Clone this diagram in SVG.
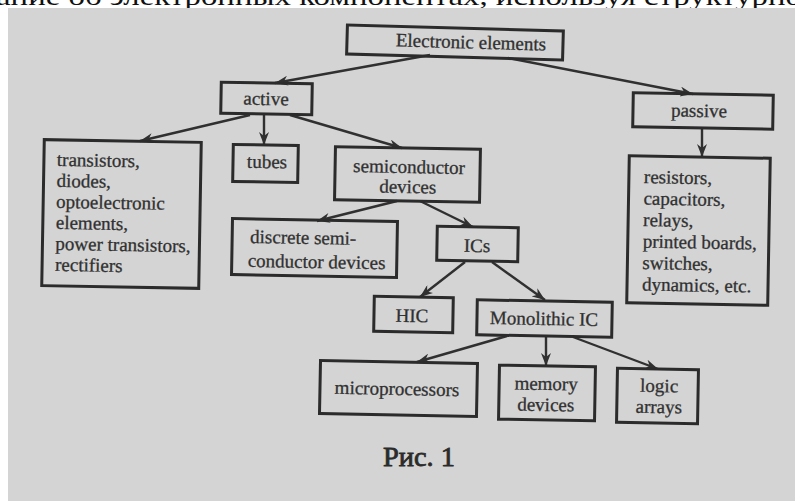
<svg xmlns="http://www.w3.org/2000/svg" width="795" height="501" viewBox="0 0 795 501">
<defs>
<style>
.box{fill:none;stroke:#2b2b2b;stroke-width:3}
.t{font-family:"Liberation Serif","Times New Roman",serif;font-size:19px;fill:#303030;stroke:#303030;stroke-width:0.3}
.c{text-anchor:middle}
.edge{stroke:#303030;stroke-width:2.4;fill:none;marker-end:url(#ah)}
</style>
<marker id="ah" markerUnits="userSpaceOnUse" markerWidth="14" markerHeight="10" refX="13" refY="5" orient="auto">
<path d="M0,0 L13,5 L0,10 L4,5 Z" fill="#303030"/>
</marker>
</defs>
<rect x="0" y="0" width="795" height="501" fill="#ffffff"/>
<text x="-4" y="5" font-family="Liberation Serif, serif" font-size="26" fill="#111" textLength="806" lengthAdjust="spacingAndGlyphs">ание об электронных компонентах, используя структурно</text>
<rect x="8" y="8" width="787" height="493" fill="#d4d4d4"/>

<g id="connectors">
<line class="edge" x1="430" y1="55" x2="275" y2="83"/>
<line class="edge" x1="508" y1="58" x2="693" y2="94"/>
<line class="edge" x1="250" y1="115" x2="140" y2="141"/>
<line class="edge" x1="264" y1="115" x2="264" y2="145"/>
<line class="edge" x1="290" y1="115" x2="402" y2="148"/>
<line class="edge" x1="702" y1="128" x2="702" y2="157"/>
<line class="edge" x1="397" y1="201" x2="317" y2="221"/>
<line class="edge" x1="420" y1="201" x2="473" y2="227"/>
<line class="edge" x1="465" y1="262" x2="420" y2="297"/>
<line class="edge" x1="492" y1="262" x2="545" y2="300"/>
<line class="edge" x1="507" y1="336" x2="417" y2="362"/>
<line class="edge" x1="546" y1="336" x2="546" y2="366"/>
<line class="edge" x1="573" y1="337" x2="658" y2="369"/>
</g>

<g id="n-electronic" transform="rotate(1.6 455 42)">
<rect class="box" x="347" y="28" width="216" height="29"/>
<text class="t c" x="471" y="48">Electronic elements</text>
</g>
<g id="n-active" transform="rotate(1 266 99)">
<rect class="box" x="221" y="83" width="91" height="31"/>
<text class="t c" x="266" y="105">active</text>
</g>
<g id="n-passive" transform="rotate(1 703 111)">
<rect class="box" x="633" y="94" width="140" height="34"/>
<text class="t c" x="699" y="117">passive</text>
</g>
<g id="n-active-list" transform="rotate(1 121 214)">
<rect class="box" x="43" y="141" width="157" height="146"/>
<text class="t" x="56" y="167">transistors,</text>
<text class="t" x="56" y="188">diodes,</text>
<text class="t" x="56" y="209">optoelectronic</text>
<text class="t" x="56" y="230">elements,</text>
<text class="t" x="56" y="251">power transistors,</text>
<text class="t" x="56" y="272">rectifiers</text>
</g>
<g id="n-tubes" transform="rotate(1 265 163)">
<rect class="box" x="233" y="145" width="65" height="37"/>
<text class="t c" x="267" y="168">tubes</text>
</g>
<g id="n-semiconductor" transform="rotate(1 407 174)">
<rect class="box" x="335" y="148" width="145" height="53"/>
<text class="t c" x="409" y="173">semiconductor</text>
<text class="t c" x="408" y="193">devices</text>
</g>
<g id="n-discrete" transform="rotate(1 314 248)">
<rect class="box" x="232" y="220" width="165" height="56"/>
<text class="t" x="250" y="244">discrete semi-</text>
<text class="t" x="248" y="268">conductor devices</text>
</g>
<g id="n-ics" transform="rotate(1 477 244)">
<rect class="box" x="437" y="227" width="81" height="34"/>
<text class="t c" x="477" y="252">ICs</text>
</g>
<g id="n-passive-list" transform="rotate(1 698 230)">
<rect class="box" x="628" y="157" width="141" height="147"/>
<text class="t" x="643" y="184">resistors,</text>
<text class="t" x="643" y="205.5">capacitors,</text>
<text class="t" x="643" y="227">relays,</text>
<text class="t" x="643" y="248.5">printed boards,</text>
<text class="t" x="643" y="270">switches,</text>
<text class="t" x="643" y="291.5">dynamics, etc.</text>
</g>
<g id="n-hic" transform="rotate(1 413 314)">
<rect class="box" x="374" y="297" width="79" height="35"/>
<text class="t c" x="412" y="322">HIC</text>
</g>
<g id="n-monolithic" transform="rotate(1 544 318)">
<rect class="box" x="477" y="301" width="135" height="35"/>
<text class="t c" x="544" y="325">Monolithic IC</text>
</g>
<g id="n-micro" transform="rotate(1.1 398 388)">
<rect class="box" x="320" y="362" width="157" height="53"/>
<text class="t c" x="397" y="395">microprocessors</text>
</g>
<g id="n-memory" transform="rotate(1 547 393)">
<rect class="box" x="499" y="366" width="96" height="54"/>
<text class="t c" x="546" y="390">memory</text>
<text class="t c" x="546" y="411">devices</text>
</g>
<g id="n-logic" transform="rotate(1 657 396)">
<rect class="box" x="617" y="369" width="81" height="54"/>
<text class="t c" x="659" y="392">logic</text>
<text class="t c" x="659" y="413">arrays</text>
</g>

<text x="419" y="466" font-family="Liberation Serif, serif" font-size="28" fill="#2b2b2b" stroke="#2b2b2b" stroke-width="0.8" text-anchor="middle" textLength="72" lengthAdjust="spacingAndGlyphs">Рис. 1</text>
</svg>
